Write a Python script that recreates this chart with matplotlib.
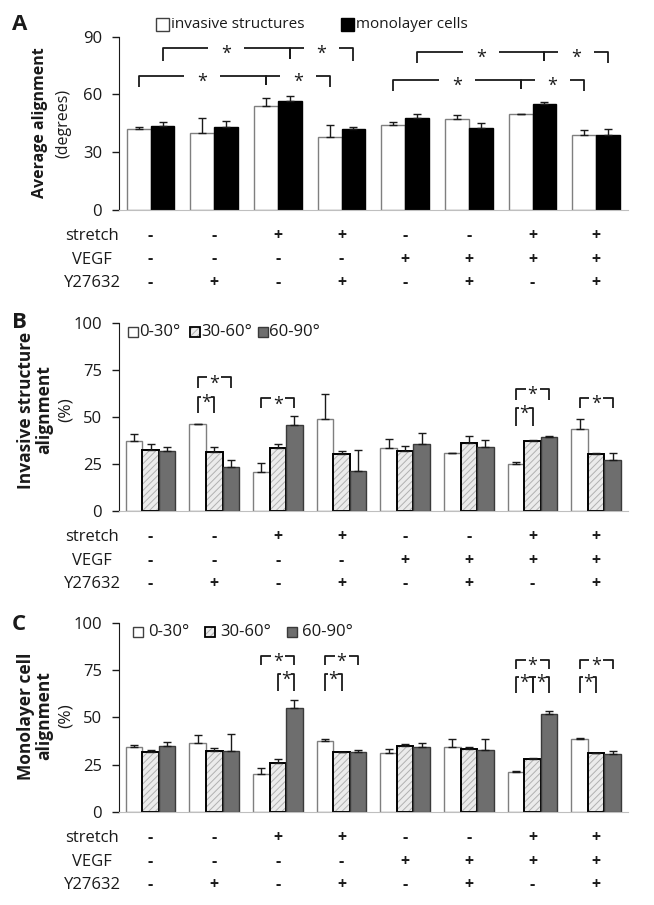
import numpy as np
import matplotlib.pyplot as plt
from matplotlib.patches import Rectangle

plt.rcParams['font.family'] = ['Open Sans', 'DejaVu Sans']
plt.rcParams['text.color'] = '#1a1a1a'
plt.rcParams['hatch.linewidth'] = 0.7

W, H = 654, 905

# conditions under each group of bars
row_names = ['stretch', 'VEGF', 'Y27632']
stretch = ['-', '-', '+', '+', '-', '-', '+', '+']
vegf = ['-', '-', '-', '-', '+', '+', '+', '+']
y27632 = ['-', '+', '-', '+', '-', '+', '-', '+']

# panel A: average alignment (degrees)
a_inv = [41.9, 40.1, 54.0, 37.7, 44.0, 47.2, 50.0, 38.9]
a_inv_err = [1.4, 7.7, 4.0, 6.3, 1.7, 1.9, 0.0, 2.6]
a_mono = [43.6, 43.1, 56.7, 42.0, 47.9, 42.7, 55.0, 39.1]
a_mono_err = [2.1, 2.9, 2.5, 0.9, 1.9, 2.3, 0.9, 3.1]

# panel B: invasive structure alignment (%)
b_0_30 = [37.3, 46.0, 20.7, 49.0, 33.3, 30.6, 25.0, 43.5]
b_0_30_err = [3.4, 0.4, 5.0, 13.1, 4.7, 0.4, 0.8, 5.3]
b_30_60 = [32.2, 31.3, 33.6, 30.1, 31.9, 36.1, 37.0, 30.3]
b_30_60_err = [3.6, 2.5, 2.2, 1.9, 2.8, 3.7, 0.7, 0.5]
b_60_90 = [31.9, 23.5, 45.7, 21.4, 35.4, 34.2, 39.1, 26.9]
b_60_90_err = [2.1, 3.4, 4.6, 11.2, 6.2, 3.5, 0.7, 4.1]

# panel C: monolayer cell alignment (%)
c_0_30 = [34.1, 36.2, 20.0, 37.3, 31.1, 34.1, 21.1, 38.3]
c_0_30_err = [1.4, 4.6, 3.2, 1.0, 2.1, 4.2, 0.7, 0.9]
c_30_60 = [31.6, 32.3, 25.8, 31.5, 34.8, 33.2, 27.9, 31.3]
c_30_60_err = [0.9, 1.4, 2.3, 0.0, 0.9, 0.9, 0.4, 0.0]
c_60_90 = [35.0, 32.0, 54.8, 31.6, 34.6, 32.9, 51.7, 30.9]
c_60_90_err = [1.9, 9.1, 4.4, 1.3, 1.8, 5.4, 1.9, 1.4]

# significance brackets
# A: (left, middle, right group), series, bracket top, leg bottom
a_sig = [((0, 2, 3), 1, 84.3, 77.4), ((0, 2, 3), 0, 69.6, 63.9),
         ((4, 6, 7), 1, 82.2, 76.2), ((4, 6, 7), 0, 67.5, 62.0)]
# B, C: group, bar from, bar to, bracket top, leg bottom
b_sig = [(1, 0, 2, 71.0, 65.1), (1, 0, 1, 60.7, 51.9), (2, 0, 2, 59.8, 54.5),
         (6, 0, 2, 64.8, 59.0), (6, 0, 1, 54.9, 45.1), (7, 0, 2, 60.2, 54.5)]
c_sig = [(2, 0, 2, 82.6, 77.6), (2, 1, 2, 72.9, 64.0), (3, 0, 2, 82.6, 77.6),
         (3, 0, 1, 72.9, 64.0), (6, 0, 2, 80.3, 75.4), (6, 0, 1, 71.5, 62.7),
         (6, 1, 2, 71.5, 62.7), (7, 0, 2, 80.3, 75.4), (7, 0, 1, 71.5, 62.7)]

x = np.arange(len(stretch))
fig = plt.figure(figsize=(W / 100, H / 100), dpi=100)


def px_axes(left, top, right, bottom):
    return fig.add_axes([left / W, 1 - bottom / H, (right - left) / W, (bottom - top) / H])


def style_axes(ax, ymax, ticks):
    ax.set_xlim(-0.5, len(x) - 0.5)
    ax.set_ylim(0, ymax)
    ax.set_yticks(ticks)
    ax.set_xticks([])
    for s in ['top', 'right']:
        ax.spines[s].set_visible(False)
    ax.spines['left'].set_color('#1a1a1a')
    ax.spines['bottom'].set_color('#bfbfbf')
    ax.tick_params(axis='y', direction='out', length=5, width=1, pad=7,
                   labelsize=12, colors='#1a1a1a')
    rows = [stretch, vegf, y27632]
    for r, (name, signs) in enumerate(zip(row_names, rows)):
        dy = -(26 + 23.5 * r) * 0.72
        ax.annotate(name, xy=(92 / W, 0), xycoords=('figure fraction', 'axes fraction'),
                    xytext=(0, dy), textcoords='offset points', ha='center', va='center',
                    fontsize=12)
        for i, s in enumerate(signs):
            ax.annotate(s, xy=(x[i], 0), xycoords=('data', 'axes fraction'),
                        xytext=(0, dy), textcoords='offset points', ha='center',
                        va='center', fontsize=11.5, fontweight='bold')


def star(ax, xs, y, fs=13):
    ax.annotate('*', xy=(xs, y), xytext=(0, -0.62 * fs), textcoords='offset points',
                ha='center', va='baseline', fontsize=fs, clip_on=False)


def bracket(ax, x1, x2, top, leg1, leg2, gap):
    xm = (x1 + x2) / 2
    kw = dict(color='#1a1a1a', lw=1.3, clip_on=False, solid_capstyle='butt')
    ax.plot([x1, x1, xm - gap], [leg1, top, top], **kw)
    ax.plot([xm + gap, x2, x2], [top, top, leg2], **kw)
    star(ax, xm, top)


def ylabel(lines, yc, fs):
    for xp, txt, bold in lines:
        fig.text(xp / W, 1 - yc / H, txt, rotation=90, ha='center', va='center',
                 fontsize=fs, fontweight='bold' if bold else 'normal')


def legend_box(xp, yp, s, fc, ec, hatch=None):
    fig.add_artist(Rectangle((xp / W, 1 - (yp + s) / H), s / W, s / H,
                             transform=fig.transFigure, facecolor=fc,
                             edgecolor='#b0b0b0' if hatch else ec, lw=0 if hatch else 1,
                             hatch=hatch))
    if hatch:
        fig.add_artist(Rectangle((xp / W, 1 - (yp + s) / H), s / W, s / H,
                                 transform=fig.transFigure, fill=False,
                                 edgecolor=ec, lw=1.3))


errkw = dict(fmt='none', ecolor='#1a1a1a', elinewidth=1, capsize=3.2, capthick=1)

# ---------------- panel A
axA = px_axes(118.75, 36.7, 628, 210)
wA = 0.375
offA = [-wA / 2, wA / 2]
axA.bar(x + offA[0], a_inv, wA, color='white', edgecolor='#7f7f7f', lw=1)
axA.errorbar(x + offA[0], a_inv, yerr=[np.zeros(8), a_inv_err], **errkw)
axA.bar(x + offA[1], a_mono, wA, color='black', edgecolor='black', lw=1)
axA.errorbar(x + offA[1], a_mono, yerr=[np.zeros(8), a_mono_err], **errkw)
style_axes(axA, 90, [0, 30, 60, 90])
for (gl, gm, gr), si, top, leg in a_sig:
    xl, xm, xr = x[gl] + offA[si], x[gm] + offA[si], x[gr] + offA[si]
    bracket(axA, xl, xm, top, leg, leg + 1, 0.28)
    bracket(axA, xm, xr, top, leg + 1, leg, 0.28)
ylabel([(40, 'Average alignment', True), (63, '(degrees)', False)], 123, 11.5)
legend_box(156, 18, 13, 'white', '#404040')
fig.text(171 / W, 1 - 24.5 / H, 'invasive structures', fontsize=11, va='center')
legend_box(341, 18, 13, 'black', 'black')
fig.text(356 / W, 1 - 24.5 / H, 'monolayer cells', fontsize=11, va='center')
fig.text(12 / W, 1 - 24 / H, 'A', fontsize=16, fontweight='bold', va='center')


# ---------------- panels B and C
def three_bars(ax, s1, e1, s2, e2, s3, e3):
    w = 0.26
    offs = [-w, 0, w]
    ax.bar(x + offs[0], s1, w, color='white', edgecolor='#7f7f7f', lw=1)
    ax.errorbar(x + offs[0], s1, yerr=[np.zeros(8), e1], **errkw)
    ax.bar(x + offs[1], s2, w, color='#ebebeb', edgecolor='#b0b0b0', lw=0, hatch='/////')
    ax.bar(x + offs[1], s2, w, fill=False, edgecolor='black', lw=1.4)
    ax.errorbar(x + offs[1], s2, yerr=[np.zeros(8), e2], **errkw)
    ax.bar(x + offs[2], s3, w, color='#6e6e6e', edgecolor='#3a3a3a', lw=1)
    ax.errorbar(x + offs[2], s3, yerr=[np.zeros(8), e3], **errkw)
    return offs


def sig_brackets(ax, sigs, offs):
    for g, i, j, top, leg in sigs:
        span = abs(offs[j] - offs[i])
        gap = 0.11 if span > 0.3 else 0.075
        bracket(ax, x[g] + offs[i], x[g] + offs[j], top, leg, leg, gap)


axB = px_axes(118.75, 322.7, 628, 511)
offs = three_bars(axB, b_0_30, b_0_30_err, b_30_60, b_30_60_err, b_60_90, b_60_90_err)
style_axes(axB, 100, [0, 25, 50, 75, 100])
sig_brackets(axB, b_sig, offs)
ylabel([(26, 'Invasive structure', True), (44, 'alignment', True), (66, '(%)', False)],
       410, 12.5)
fig.text(12 / W, 1 - 322 / H, 'B', fontsize=16, fontweight='bold', va='center')

axC = px_axes(118.75, 622.7, 628, 812)
offs = three_bars(axC, c_0_30, c_0_30_err, c_30_60, c_30_60_err, c_60_90, c_60_90_err)
style_axes(axC, 100, [0, 25, 50, 75, 100])
sig_brackets(axC, c_sig, offs)
ylabel([(26, 'Monolayer cell', True), (44, 'alignment', True), (66, '(%)', False)],
       716, 12.5)
fig.text(12 / W, 1 - 624 / H, 'C', fontsize=16, fontweight='bold', va='center')

# legends of B and C
for yl, xs, tx in [(332, (128, 190, 258), 11), (632, (133, 205, 287), 15)]:
    legend_box(xs[0], yl - 5, 10, 'white', '#404040')
    legend_box(xs[1], yl - 5, 10, '#ebebeb', 'black', hatch='/////')
    legend_box(xs[2], yl - 5, 10, '#6e6e6e', '#3a3a3a')
    for xp, lab in zip(xs, ['0-30°', '30-60°', '60-90°']):
        fig.text((xp + tx) / W, 1 - yl / H, lab, fontsize=12, va='center')

fig.savefig('out.png', dpi=100)
